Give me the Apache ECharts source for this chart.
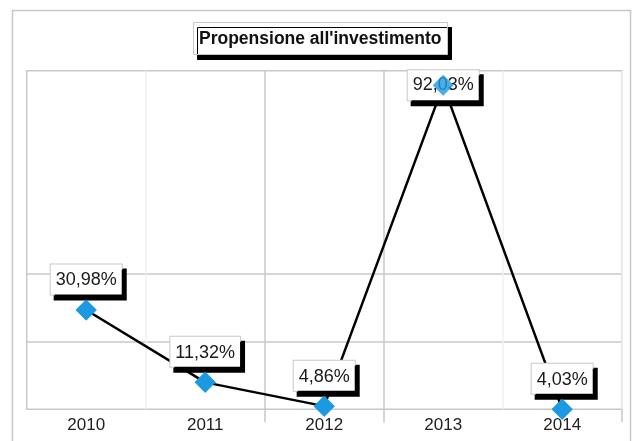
<!DOCTYPE html>
<html>
<head>
<meta charset="utf-8">
<style>
  html, body { margin: 0; padding: 0; background: #fff; }
  #chart { width: 637px; height: 441px; }
</style>
<script src="https://cdn.jsdelivr.net/npm/echarts@6/dist/echarts.min.js"></script>
</head>
<body>
<div id="chart"></div>
<script>
// Investment propensity per year (percent)
const years = ['2010', '2011', '2012', '2013', '2014'];
const propensity = [30.98, 11.32, 4.86, 92.03, 4.03];
const chartTitle = "Propensione all'investimento";

const FONT = '"Liberation Sans", Arial, sans-serif';
const GRID_COLOR = '#c8c8c8';
const MARKER_COLOR = '#1c9ae2';

// Italian number format: comma as decimal separator
function fmtPct(v) {
  return v.toFixed(2).replace('.', ',') + '%';
}

const labelBox = {
  show: true,
  position: 'top',
  distance: 5,
  formatter: p => fmtPct(p.value),
  fontFamily: FONT,
  fontSize: 18,
  color: '#1a1a1a',
  backgroundColor: '#fff',
  borderColor: GRID_COLOR,
  borderWidth: 1,
  padding: [7, 5, 5, 5],
  shadowColor: '#000',
  shadowBlur: 0,
  shadowOffsetX: 4,
  shadowOffsetY: 5
};

// The peak year's label sits centred on its point, inside the plot
const lineData = propensity.map((v, i) => {
  if (i === 3) {
    return { value: v, label: { position: 'inside', distance: 0 } };
  }
  return v;
});

const chart = echarts.init(document.getElementById('chart'), null, { renderer: 'canvas' });

chart.setOption({
  animation: false,
  backgroundColor: '#fff',
  textStyle: { fontFamily: FONT },
  graphic: [{
    type: 'rect',
    silent: true,
    z: -10,
    shape: { x: 12.5, y: 10.5, width: 618, height: 440 },
    style: { fill: 'none', stroke: GRID_COLOR, lineWidth: 1.5 }
  }],
  title: {
    text: chartTitle,
    left: 193,
    top: 22,
    padding: [8, 6, 7, 6],
    backgroundColor: '#fff',
    borderColor: GRID_COLOR,
    borderWidth: 1,
    shadowColor: '#000',
    shadowBlur: 0,
    shadowOffsetX: 4,
    shadowOffsetY: 5,
    textStyle: {
      fontFamily: FONT,
      fontWeight: 'bold',
      fontSize: 17.5,
      color: '#111'
    }
  },
  grid: {
    left: 26.7,
    right: 15.3,
    top: 70.7,
    bottom: 31.7,
    show: true,
    borderColor: GRID_COLOR,
    borderWidth: 1.5,
    backgroundColor: 'transparent'
  },
  xAxis: {
    type: 'category',
    data: years,
    boundaryGap: true,
    axisLine: { show: false },
    axisTick: {
      show: true,
      length: 13,
      interval: i => i === 2 || i === 3,
      lineStyle: { color: GRID_COLOR, width: 1.5 }
    },
    axisLabel: {
      fontFamily: FONT,
      fontSize: 17,
      color: '#222',
      margin: 8
    },
    splitLine: {
      show: true,
      interval: i => i >= 1 && i <= 4,
      lineStyle: { color: ['#f0f0f0', GRID_COLOR, GRID_COLOR, '#f0f0f0', '#f0f0f0'], width: 1.5 }
    }
  },
  yAxis: [{
    type: 'value',
    min: 4,
    max: 96,
    show: false,
    splitLine: { show: false }
  }, {
    // reference lines only: fifths of the plot height
    type: 'value',
    min: 0,
    max: 5,
    interval: 1,
    axisLine: { show: false },
    axisTick: { show: false },
    axisLabel: { show: false },
    splitLine: {
      show: true,
      lineStyle: {
        color: ['transparent', GRID_COLOR, GRID_COLOR, 'transparent', 'transparent', 'transparent'],
        width: 1.5
      }
    }
  }],
  series: [{
    type: 'line',
    yAxisIndex: 0,
    data: lineData,
    z: 2,
    symbol: 'diamond',
    symbolSize: 21,
    itemStyle: { color: MARKER_COLOR },
    lineStyle: { color: '#000', width: 2.5 },
    label: labelBox
  }, {
    // diamonds drawn on top of the value boxes
    type: 'scatter',
    yAxisIndex: 0,
    data: propensity,
    z: 5,
    symbol: 'diamond',
    symbolSize: 21,
    itemStyle: { color: MARKER_COLOR },
    silent: true
  }]
});
</script>
</body>
</html>
